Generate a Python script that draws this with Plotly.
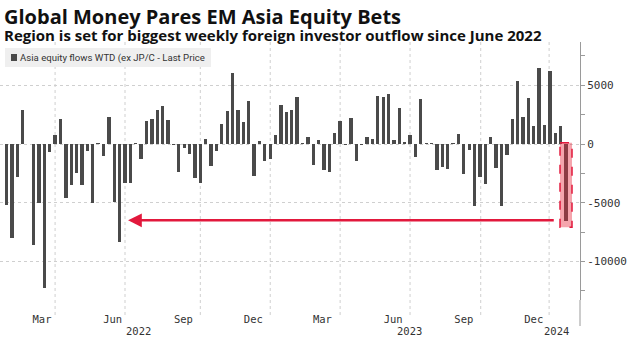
import pandas as pd
import plotly.graph_objects as go

# Weekly Asia equity flows (ex Japan/China), USD mn, week-to-date
weeks = pd.date_range("2022-01-14", periods=105, freq="7D")
flows = [
    -5200, -8000, -2800, 2900, 0, -8600, -5000, -12300, -700, 770,
    2100, -4560, -3500, -2500, -3500, -570, -5000, 50, -1000, 2270,
    -4900, -8360, -3340, -3340, 50, -1300, 1950, 2100, 2900, 3260,
    2040, -50, -2350, -370, -850, -2900, -3340, 420, -1840, -600,
    1730, 2800, 6030, 2900, 1870, 3700, -2700, 280, -1420, -1270,
    740, 3340, 2720, 2900, 3970, 30, 570, -1800, 370, -2240,
    -2350, 930, 1950, -50, 2240, -1420, -50, 570, 450, 4080,
    4000, 4250, 340, 3060, 170, 800, -1130, 3800, 30, 80,
    -2200, -2000, -2100, 30, 850, -2580, -500, -5270, -2780, -3400,
    620, -2070, -5270, -930, 2120, 5330, 2300, 3940, 1530, 6490,
    1610, 6200, 930, 1530, -6600,
]

month_ticks = ["2022-03-01", "2022-06-01", "2022-09-01", "2022-12-01",
               "2023-03-01", "2023-06-01", "2023-09-01", "2023-12-01"]
month_labels = ["Mar", "Jun", "Sep", "Dec", "Mar", "Jun", "Sep", "Dec"]
year_labels = ["2022", "2023", "2024"]
year_pos = ["2022-07-05", "2023-06-22", "2023-12-31"]
grid_dates = ["2022-03-18", "2022-06-17", "2022-09-23", "2022-12-23",
              "2023-03-24", "2023-06-23", "2023-09-23", "2023-12-21"]
y_ticks = [-10000, -5000, 0, 5000]
y_ticktext = ["-10000", "-5000", "0", "5000"]
y_minor = [-12500, -7500, -2500, 2500, 7500]

title = "Global Money Pares EM Asia Equity Bets"
subtitle = "Region is set for biggest weekly foreign investor outflow since June 2022"
series_name = "Asia equity flows WTD (ex JP/C - Last Price"

BAR = "#4a4a4a"
RED = "#e2183c"
GRID = "#cfcfcf"
AXIS = "#9a9a9a"
DAY_MS = 86400000

W, H = 629, 337
ML, MR, MT, MB = 0, 49, 42, 37
PH = H - MT - MB


def py(px):
    """Pixel row -> paper y."""
    return (H - MB - px) / PH


def pxx(px):
    return px / (W - ML - MR)


fig = go.Figure(
    go.Bar(
        x=weeks, y=flows, name=series_name,
        marker=dict(color=BAR, line=dict(width=0)),
        width=4.3 * DAY_MS,
    )
)

x_left = weeks[0] - pd.Timedelta(days=8.7)
x_right = weeks[0] + pd.Timedelta(days=746.2)

fig.update_xaxes(
    type="date", range=[x_left, x_right],
    tickmode="array", tickvals=month_ticks, ticktext=month_labels,
    showgrid=False, zeroline=False, showline=False, ticks="",
    ticklabelstandoff=11,
    tickfont=dict(family="DejaVu Sans Mono", size=10.5, color="#333"),
)
fig.update_yaxes(
    side="right", range=[-13290, 8690],
    tickmode="array", tickvals=y_ticks, ticktext=y_ticktext,
    showgrid=True, gridcolor=GRID, griddash="dot", gridwidth=1,
    zeroline=False, showline=True, linecolor=AXIS, linewidth=1,
    ticks="outside", ticklen=4, tickcolor=AXIS,
    minor=dict(tickmode="array", tickvals=y_minor, ticks="outside",
               ticklen=4, tickcolor=AXIS, showgrid=False),
    tickfont=dict(family="DejaVu Sans Mono", size=11, color="#333"),
)

shapes = []
for d in grid_dates:
    shapes.append(dict(type="line", xref="x", yref="paper", x0=d, x1=d,
                       y0=py(315), y1=1, layer="below",
                       line=dict(color=GRID, width=1, dash="dot")))
# axis line continues down through the date labels
shapes.append(dict(type="line", xref="paper", yref="paper", x0=1, x1=1,
                   y0=py(326), y1=0, line=dict(color=AXIS, width=1)))

# highlight around the latest week
last = weeks[-1]
shapes.append(dict(type="rect", xref="x", yref="y",
                   x0=last - pd.Timedelta(days=7.8), x1=last + pd.Timedelta(days=7.8),
                   y0=100, y1=flows[-1] * 1.075, layer="above",
                   fillcolor="rgba(232,40,60,0.42)",
                   line=dict(color=RED, width=1.5, dash="dash")))

# series key box
shapes.append(dict(type="rect", xref="paper", yref="paper",
                   x0=pxx(5), x1=pxx(211), y0=py(48), y1=py(67),
                   fillcolor="#efefef", line=dict(width=0), layer="above"))
shapes.append(dict(type="rect", xref="paper", yref="paper",
                   x0=pxx(11), x1=pxx(17), y0=py(54), y1=py(61),
                   fillcolor=BAR, line=dict(width=0), layer="above"))

heading = (f"<span style='font-size:20px'><b>{title}</b></span><br>"
           f"<span style='font-size:15px'><b>{subtitle}</b></span>")

annotations = [
    dict(text=heading, xref="paper", yref="paper", x=pxx(3), y=py(2),
         xanchor="left", yanchor="top", align="left", showarrow=False,
         borderpad=0, font=dict(family="Open Sans", size=13, color="#111")),
    dict(text=series_name, xref="paper", yref="paper", x=pxx(18), y=py(57.5),
         xanchor="left", yanchor="middle", showarrow=False,
         font=dict(family="Roboto", size=9.6, color="#333")),
]
for lab, pos in zip(year_labels, year_pos):
    annotations.append(dict(text=lab, xref="x", yref="paper", x=pos, y=py(330.5),
                            xanchor="center", yanchor="middle", showarrow=False,
                            borderpad=0,
                            font=dict(family="DejaVu Sans Mono", size=10.5, color="#333")))

# arrow from the latest outflow back to the June 2022 week
arrow_y = flows[-1] + 100
annotations.append(dict(text="", xref="x", yref="y", axref="x", ayref="y",
                        x=weeks[21] + pd.Timedelta(days=11), y=arrow_y,
                        ax=last - pd.Timedelta(days=14), ay=arrow_y,
                        showarrow=True, arrowhead=2, arrowsize=1.1,
                        arrowwidth=2.5, arrowcolor=RED))

fig.update_layout(
    width=W, height=H,
    margin=dict(l=ML, r=MR, t=MT, b=MB),
    paper_bgcolor="white", plot_bgcolor="white",
    showlegend=False, bargap=0,
    shapes=shapes, annotations=annotations,
)

fig.write_html("out.html")
